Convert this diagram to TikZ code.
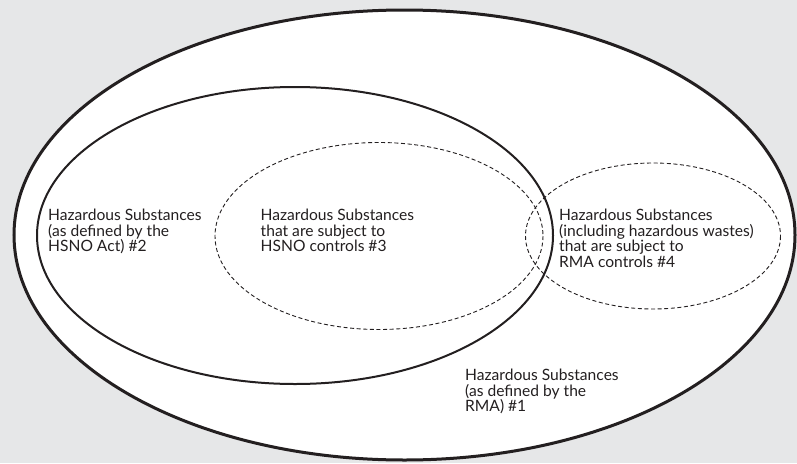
\documentclass[tikz,border=0pt]{standalone}
\usepackage{fontspec}
\setmainfont{Lato}
\definecolor{bggray}{HTML}{E6E7E8}
\definecolor{ink}{HTML}{231F20}
\begin{document}
\begin{tikzpicture}[x=1pt,y=-1pt,
  outerline/.style={draw=ink, line width=3pt, fill=white},
  innerline/.style={draw=ink, line width=2pt},
  dashline/.style={draw=ink, line width=0.9pt, dash pattern=on 4pt off 2.6pt},
  label/.style={anchor=base west, align=left, inner sep=0pt, text=ink,
    font=\fontsize{15.6}{15.6}\selectfont}]
\fill[bggray] (0,0) rectangle (797,463);
\useasboundingbox (0,0) rectangle (797,463);
\draw[outerline] (404.5,235) ellipse [x radius=390.5, y radius=225];
\draw[innerline] (295,235.5) ellipse [x radius=258, y radius=148.5];
\draw[dashline] (379,236) ellipse [x radius=164, y radius=93.5];
\draw[dashline] (653,236) ellipse [x radius=127.5, y radius=73];
% base anchor = baseline of the last line
\node[label] (t2) at (48,251.7) {Hazardous Substances\\(as defined by the\\HSNO Act) \#2};
\node[label] (t3) at (260.5,251.7) {Hazardous Substances\\that are subject to\\HSNO controls \#3};
\node[label] (t4) at (559,267.3) {Hazardous Substances\\(including hazardous wastes)\\that are subject to\\RMA controls \#4};
\node[label] (t1) at (465,411.7) {Hazardous Substances\\(as defined by the\\RMA) \#1};
\end{tikzpicture}
\end{document}
